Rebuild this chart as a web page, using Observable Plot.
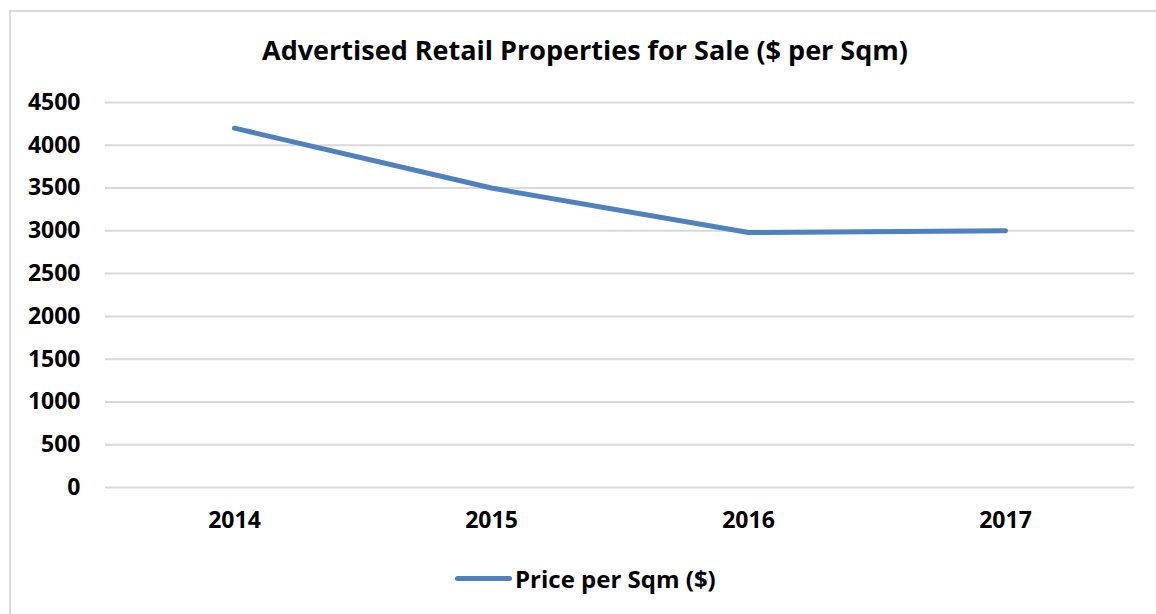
<!DOCTYPE html>
<html>
<head>
<meta charset="utf-8">
<script src="https://cdn.jsdelivr.net/npm/d3@7"></script>
<script src="https://cdn.jsdelivr.net/npm/@observablehq/plot@0.6"></script>
<style>
  html, body { margin: 0; padding: 0; background: #fff; }
  #frame {
    position: absolute; left: 9px; top: 10px; width: 1160px; height: 620px;
    border-left: 2px solid #d9d9d9; border-top: 2px solid #d9d9d9; box-sizing: border-box;
  }
  #title {
    position: absolute; left: 0; top: 31px; width: 1170px; text-align: center;
    font-family: "Open Sans", Lato, sans-serif; font-weight: bold; font-size: 27px; color: #000;
  }
  #chart { position: absolute; left: 0; top: 80px; }
  #legend {
    position: absolute; left: 455px; top: 562px; display: flex; align-items: center;
    font-family: "Open Sans", Lato, sans-serif; font-weight: bold; font-size: 24px; color: #000;
  }
  #legend .swatch { width: 57px; height: 5px; background: #4f81bd; border-radius: 3px; margin-right: 3px; }
</style>
</head>
<body>
<div id="frame"></div>
<div id="title">Advertised Retail Properties for Sale ($ per Sqm)</div>
<div id="chart"></div>
<div id="legend"><div class="swatch"></div><span>Price per Sqm ($)</span></div>
<script>
const years = ["2014", "2015", "2016", "2017"];
const prices = [4200, 3500, 2980, 3000];
const yTicks = [0, 500, 1000, 1500, 2000, 2500, 3000, 3500, 4000, 4500];
const seriesName = "Price per Sqm ($)";

const data = years.map((y, i) => ({year: y, price: prices[i]}));

const chart = Plot.plot({
  width: 1156,
  height: 470,
  marginLeft: 105,
  marginRight: 22,
  marginTop: 22,
  marginBottom: 63,
  style: {fontFamily: "'Open Sans', Lato, sans-serif", fontSize: "23px", fontWeight: "bold", color: "#000", background: "transparent"},
  x: {type: "point", domain: years, padding: 0.5, label: null},
  y: {domain: [0, 4500], ticks: yTicks, label: null},
  marks: [
    Plot.ruleY(yTicks, {stroke: "#d9d9d9", strokeWidth: 2}),
    Plot.axisY({ticks: yTicks, tickSize: 0, tickPadding: 25, label: null, tickFormat: d => String(d)}),
    Plot.axisX({tickSize: 0, tickPadding: 24, label: null}),
    Plot.line(data, {x: "year", y: "price", stroke: "#4f81bd", strokeWidth: 5, strokeLinecap: "round", strokeLinejoin: "round"})
  ]
});
document.getElementById("chart").appendChild(chart);
</script>
</body>
</html>
